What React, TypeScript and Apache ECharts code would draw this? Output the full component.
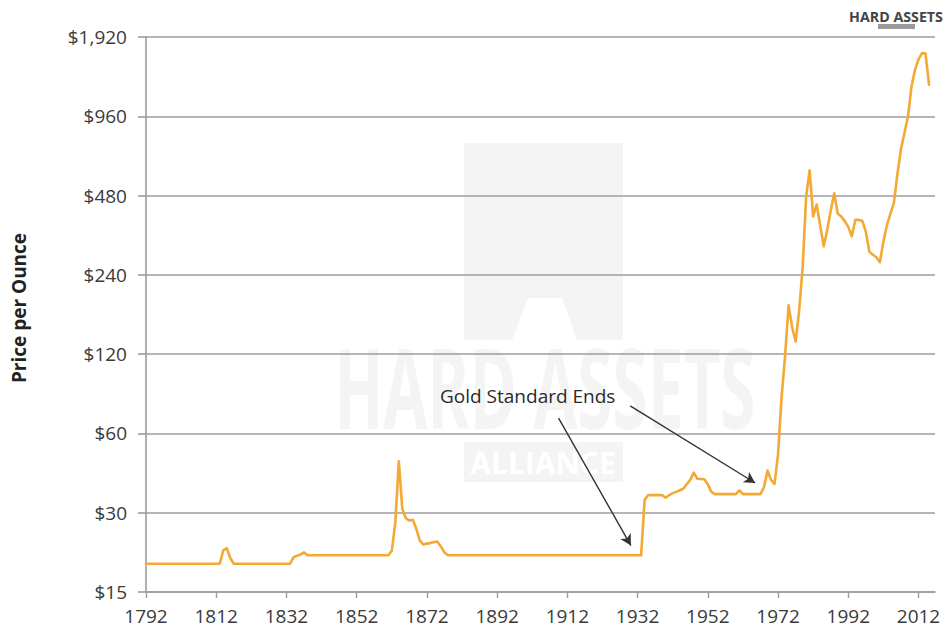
import { useEffect, useRef } from 'react';
import * as echarts from 'echarts';

// ---- data ----
const years = [
  1792, 1813, 1814, 1815, 1816, 1817, 1833, 1834, 1835, 1836, 1837, 1838,
  1861, 1862, 1863, 1864, 1865, 1866, 1867, 1868, 1869, 1870, 1871, 1872,
  1873, 1874, 1875, 1876, 1877, 1878, 1933, 1934, 1935, 1939, 1940, 1941,
  1942, 1943, 1944, 1945, 1946, 1947, 1948, 1949, 1950, 1951, 1952, 1953,
  1954, 1960, 1961, 1962, 1967, 1968, 1969, 1970, 1971, 1972, 1973, 1974,
  1975, 1976, 1977, 1978, 1979, 1980, 1981, 1982, 1983, 1984, 1985, 1986,
  1987, 1988, 1989, 1990, 1991, 1992, 1993, 1994, 1995, 1996, 1997, 1998,
  1999, 2000, 2001, 2002, 2003, 2004, 2005, 2006, 2007, 2008, 2009, 2010,
  2011, 2012, 2013, 2014, 2015,
];
const prices = [
  19.2, 19.2, 21.6, 22.0, 20.2, 19.2, 19.2, 20.3, 20.6, 20.8, 21.2, 20.67,
  20.67, 21.5, 27.5, 47.0, 31.0, 28.6, 28.0, 28.2, 26.0, 23.5, 22.7, 22.9,
  23.0, 23.2, 23.3, 22.3, 21.2, 20.67, 20.67, 33.5, 35.0, 35.0, 34.2, 35.0,
  35.6, 36.0, 36.5, 37.0, 38.5, 40.0, 42.6, 40.4, 40.3, 40.2, 38.5, 36.0,
  35.3, 35.3, 36.5, 35.3, 35.3, 37.5, 43.4, 40.0, 38.6, 50.0, 82.0, 118.0,
  184.0, 152.0, 134.0, 175.0, 255.0, 476.0, 598.0, 400.0, 444.0, 370.0, 308.0, 354.0,
  420.0, 490.0, 410.0, 400.0, 384.0, 365.0, 336.0, 388.0, 388.0, 385.0, 350.0, 294.0,
  286.0, 280.0, 268.0, 321.0, 370.0, 410.0, 450.0, 580.0, 720.0, 830.0, 960.0, 1245.0,
  1440.0, 1580.0, 1668.0, 1660.0, 1264.0,
];
const xTickYears = [1792, 1812, 1832, 1852, 1872, 1892, 1912, 1932, 1952, 1972, 1992, 2012];
const yTickValues = [15, 30, 60, 120, 240, 480, 960, 1920];
const yAxisTitle = 'Price per Ounce';
const annotationText = 'Gold Standard Ends';
const brandText = 'HARD ASSETS';
const watermarkTop = 'HARD ASSETS';
const watermarkBottom = 'ALLIANCE';

const FONT = '"Open Sans", "Noto Sans", sans-serif';
const GRID = '#9c9c9c';
const TEXT = '#3a3a3a';
const WM = '#f4f4f4';

export default function App() {
  const ref = useRef<HTMLDivElement>(null);

  useEffect(() => {
    const chart = echarts.init(ref.current!, null, { renderer: 'svg' });
    const seriesData = years.map((y, i) => [y, prices[i]]);

    chart.setOption({
      animation: false,
      backgroundColor: '#ffffff',
      grid: { left: 146, top: 37, right: 11, bottom: 41 },
      xAxis: {
        type: 'value',
        min: 1792,
        max: 2016.7,
        splitLine: { show: false },
        axisLine: { show: true, lineStyle: { color: GRID, width: 1.6 } },
        axisTick: {
          show: true,
          length: 6,
          customValues: xTickYears,
          lineStyle: { color: GRID, width: 1.4 },
        },
        axisLabel: {
          customValues: xTickYears,
          margin: 14,
          color: TEXT,
          fontFamily: FONT,
          fontSize: 19,
          formatter: (v: number) => String(v),
        },
      },
      yAxis: {
        type: 'log',
        logBase: 2,
        min: 15,
        max: 1920,
        axisLine: { show: true, lineStyle: { color: GRID, width: 1.6 } },
        axisTick: {
          show: true,
          length: 8,
          customValues: yTickValues,
          lineStyle: { color: GRID, width: 1.6 },
        },
        splitLine: { show: true, lineStyle: { color: GRID, width: 1.6 } },
        axisLabel: {
          customValues: yTickValues,
          margin: 19,
          color: TEXT,
          fontFamily: FONT,
          fontSize: 19,
          formatter: (v: number) => '$' + Math.round(v).toLocaleString('en-US'),
        },
      },
      series: [
        {
          type: 'line',
          data: seriesData,
          showSymbol: false,
          symbol: 'none',
          z: 5,
          lineStyle: { color: '#F4A935', width: 2.6, join: 'round', cap: 'round' },
          markLine: {
            silent: true,
            symbol: ['none', 'arrow'],
            symbolSize: [9, 11],
            label: { show: false },
            lineStyle: { color: '#333333', width: 1.4, type: 'solid' },
            data: [
              [{ coord: [1909.5, 68.6] }, { coord: [1930.1, 22.5] }],
              [{ coord: [1929.9, 76.4] }, { coord: [1965.5, 38.9] }],
            ],
          },
        },
      ],
      graphic: [
        // watermark
        { type: 'rect', z: -10, silent: true, shape: { x: 464, y: 143, width: 159, height: 197 }, style: { fill: WM } },
        { type: 'polygon', z: -9, silent: true, shape: { points: [[512, 340], [528, 298], [562, 298], [577, 340]] }, style: { fill: '#ffffff' } },
        {
          type: 'text', z: -9, silent: true, x: 545, y: 386, scaleX: 0.57,
          style: { text: watermarkTop, fontFamily: FONT, fontWeight: 'bold', fontSize: 112, fill: WM, align: 'center', verticalAlign: 'middle' },
        },
        { type: 'rect', z: -10, silent: true, shape: { x: 464, y: 442, width: 159, height: 40 }, style: { fill: WM } },
        {
          type: 'text', z: -9, silent: true, x: 543, y: 462,
          style: { text: watermarkBottom, fontFamily: FONT, fontWeight: 'bold', fontSize: 30, fill: '#ffffff', align: 'center', verticalAlign: 'middle' },
        },
        // y axis title
        {
          type: 'text', z: 50, x: 19, y: 308, rotation: Math.PI / 2,
          style: { text: yAxisTitle, fontFamily: FONT, fontWeight: 'bold', fontSize: 19, fill: '#222222', align: 'center', verticalAlign: 'middle' },
        },
        // annotation
        {
          type: 'text', z: 50, x: 440, y: 396,
          style: { text: annotationText, fontFamily: FONT, fontSize: 19, fill: '#2a2a2a', align: 'left', verticalAlign: 'middle' },
        },
        // brand logo
        {
          type: 'text', z: 50, x: 896, y: 16, scaleX: 0.95,
          style: { text: brandText, fontFamily: FONT, fontWeight: 'bold', fontSize: 15, fill: '#444444', align: 'center', verticalAlign: 'middle' },
        },
        { type: 'rect', z: 50, shape: { x: 878, y: 24, width: 37, height: 5 }, style: { fill: '#9a9a9a' } },
      ],
    });

    return () => chart.dispose();
  }, []);

  return (
    <div
      ref={ref}
      style={{ position: 'fixed', left: 0, top: 0, width: 946, height: 633, background: '#fff' }}
    />
  );
}
